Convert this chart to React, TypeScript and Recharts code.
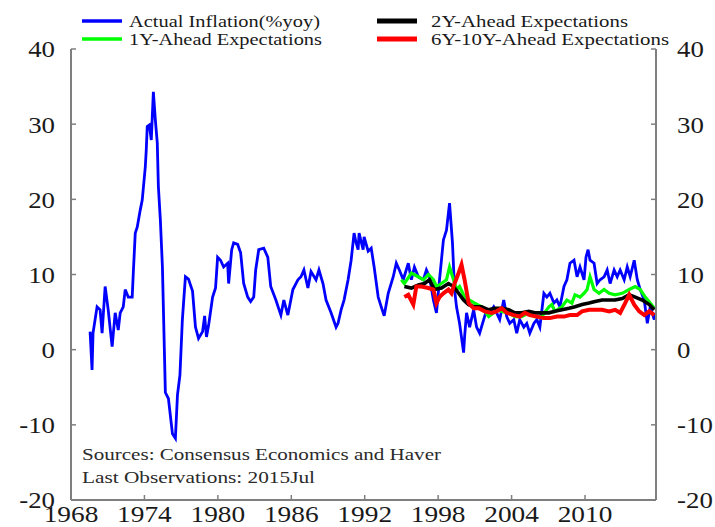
import { LineChart, Line, XAxis, YAxis } from 'recharts'

// axis ticks
const yearTicks = [1968, 1974, 1980, 1986, 1992, 1998, 2004, 2010]
const valueTicks = [-20, -10, 0, 10, 20, 30, 40]

// actual inflation, % yoy
const actualYears = [
  1969.56, 1969.72, 1969.8, 1970.13, 1970.38, 1970.54, 1970.79, 1971.04, 1971.36, 1971.61, 1971.86, 1972.02,
  1972.27, 1972.43, 1972.68, 1973.0, 1973.09, 1973.25, 1973.41, 1973.66, 1973.82, 1974.07, 1974.15, 1974.23,
  1974.4, 1974.56, 1974.73, 1974.89, 1975.05, 1975.14, 1975.3, 1975.47, 1975.71, 1975.96, 1976.29, 1976.53,
  1976.7, 1976.9, 1977.1, 1977.35, 1977.6, 1977.93, 1978.17, 1978.42, 1978.75, 1978.92, 1979.07, 1979.24,
  1979.57, 1979.81, 1979.98, 1980.22, 1980.47, 1980.8, 1980.88, 1981.13, 1981.29, 1981.62, 1981.86, 1982.11,
  1982.44, 1982.68, 1982.93, 1983.09, 1983.34, 1983.75, 1984.08, 1984.32, 1984.74, 1985.15, 1985.39, 1985.72,
  1986.13, 1986.54, 1986.79, 1987.03, 1987.36, 1987.61, 1988.02, 1988.26, 1988.59, 1988.84, 1989.25, 1989.66,
  1989.82, 1990.07, 1990.31, 1990.64, 1990.89, 1991.13, 1991.3, 1991.46, 1991.54, 1991.87, 1991.95, 1992.28,
  1992.53, 1992.77, 1993.1, 1993.35, 1993.59, 1993.92, 1994.33, 1994.58, 1994.83, 1995.15, 1995.56, 1995.81,
  1996.06, 1996.38, 1996.79, 1997.04, 1997.29, 1997.61, 1997.86, 1998.11, 1998.43, 1998.68, 1998.93, 1999.17,
  1999.34, 1999.5, 1999.75, 2000.08, 2000.16, 2000.32, 2000.57, 2000.9, 2001.14, 2001.39, 2001.72, 2001.96,
  2002.21, 2002.54, 2002.78, 2003.03, 2003.36, 2003.6, 2003.85, 2004.18, 2004.42, 2004.67, 2005.0, 2005.24,
  2005.49, 2005.82, 2006.06, 2006.31, 2006.64, 2006.88, 2007.13, 2007.46, 2007.7, 2007.95, 2008.28, 2008.52,
  2008.77, 2009.1, 2009.35, 2009.59, 2009.92, 2010.08, 2010.25, 2010.41, 2010.74, 2010.99, 2011.23, 2011.56,
  2011.81, 2012.05, 2012.38, 2012.63, 2012.87, 2013.2, 2013.45, 2013.69, 2014.02, 2014.27, 2014.51, 2014.84,
  2015.09, 2015.33, 2015.66, 2015.74,
]
const actualValues = [
  2.4, -2.7, 2.2, 5.7, 5.3, 2.2, 8.4, 5.3, 0.4, 4.9, 2.6, 4.9,
  5.7, 8.0, 7.0, 7.0, 10.2, 15.5, 16.3, 18.6, 19.9, 24.3, 26.6, 29.7,
  29.9, 27.9, 34.3, 30.6, 27.5, 21.7, 17.3, 11.0, -5.7, -6.5, -11.2, -11.8,
  -6.0, -3.4, 4.0, 9.7, 9.4, 7.8, 3.0, 1.5, 2.4, 4.5, 1.7, 3.2,
  7.0, 8.2, 12.3, 11.9, 11.0, 11.5, 8.8, 13.3, 14.2, 14.0, 12.9, 8.8,
  7.0, 6.4, 7.0, 10.6, 13.3, 13.5, 12.3, 8.4, 6.6, 4.6, 6.6, 4.6,
  8.0, 9.3, 9.7, 10.6, 8.2, 10.4, 9.3, 10.6, 8.8, 6.6, 4.9, 3.0,
  3.5, 5.3, 6.6, 9.3, 11.9, 15.5, 14.2, 13.3, 15.5, 13.3, 15.0, 13.1,
  13.5, 11.0, 7.0, 5.7, 4.5, 7.5, 9.7, 11.5, 10.6, 9.3, 11.5, 9.3,
  11.0, 9.7, 9.3, 10.6, 9.7, 6.6, 4.9, 9.3, 14.6, 15.9, 19.5, 14.2,
  8.0, 5.7, 3.5, -0.4, 1.7, 4.9, 3.0, 5.3, 3.0, 2.2, 4.0, 5.3,
  4.9, 5.7, 4.9, 4.0, 6.6, 4.4, 3.5, 4.0, 2.2, 4.0, 3.0, 3.5,
  2.2, 3.5, 4.0, 3.0, 7.5, 7.0, 7.5, 6.2, 6.6, 5.7, 8.4, 9.3,
  11.5, 11.9, 9.7, 11.0, 9.3, 12.3, 13.3, 11.9, 11.5, 8.8, 9.3, 9.7,
  10.6, 8.8, 10.6, 9.7, 10.6, 9.3, 11.0, 9.7, 11.9, 9.3, 8.0, 6.6,
  3.5, 5.7, 4.0, 4.9,
]

// 1Y-ahead expectations
const oneYearYears = [
  1994.99, 1995.24, 1995.81, 1996.38, 1996.79, 1997.2, 1997.61, 1997.86, 1998.27, 1998.68, 1998.93, 1999.26,
  1999.5, 1999.75, 2000.16, 2000.57, 2000.98, 2001.55, 2002.13, 2002.54, 2002.78, 2003.19, 2003.77, 2004.26,
  2004.83, 2005.41, 2005.9, 2006.47, 2007.05, 2007.29, 2007.54, 2008.11, 2008.52, 2008.93, 2009.18, 2009.59,
  2009.92, 2010.17, 2010.41, 2010.74, 2011.15, 2011.56, 2011.97, 2012.46, 2013.04, 2013.61, 2014.1, 2014.51,
  2014.92, 2015.33, 2015.66,
]
const oneYearValues = [
  9.3, 8.8, 10.2, 9.7, 9.3, 10.0, 9.3, 8.4, 8.8, 9.3, 11.0, 9.3,
  8.0, 8.4, 7.0, 6.6, 6.2, 5.7, 4.4, 4.9, 5.3, 5.1, 4.9, 4.4,
  4.4, 4.9, 4.4, 4.4, 5.7, 6.0, 5.1, 5.7, 6.6, 6.2, 7.3, 7.0,
  7.5, 8.0, 9.7, 8.0, 7.5, 8.0, 7.5, 7.3, 7.5, 8.0, 8.4, 8.0,
  7.0, 6.2, 5.5,
]

// 2Y-ahead expectations
const twoYearYears = [
  1995.24, 1995.81, 1996.38, 1996.88, 1997.29, 1997.7, 1998.27, 1998.84, 1999.26, 1999.67, 2000.08, 2000.49,
  2000.98, 2001.55, 2002.13, 2002.62, 2003.19, 2003.77, 2004.26, 2004.83, 2005.41, 2005.9, 2006.47, 2007.05,
  2007.54, 2008.11, 2008.69, 2009.18, 2009.76, 2010.33, 2010.82, 2011.4, 2011.97, 2012.46, 2013.04, 2013.61,
  2014.1, 2014.68, 2015.25, 2015.66,
]
const twoYearValues = [
  8.4, 8.2, 8.6, 8.8, 9.3, 8.0, 8.2, 8.8, 8.4, 7.5, 6.6, 6.0,
  5.7, 5.7, 5.3, 5.5, 5.5, 5.3, 4.9, 4.9, 5.1, 4.9, 4.9, 4.9,
  5.1, 5.3, 5.5, 5.7, 6.0, 6.2, 6.4, 6.6, 6.6, 6.6, 6.8, 7.3,
  7.0, 6.6, 6.0, 5.3,
]

// 6Y-10Y-ahead expectations
const longTermYears = [
  1995.24, 1995.56, 1995.97, 1996.22, 1996.63, 1997.2, 1997.61, 1997.86, 1998.11, 1998.43, 1998.84, 1999.09,
  1999.34, 1999.67, 1999.91, 2000.16, 2000.49, 2000.9, 2001.31, 2001.8, 2002.37, 2002.78, 2003.19, 2003.6,
  2004.18, 2004.67, 2005.08, 2005.49, 2006.06, 2006.64, 2007.13, 2007.7, 2008.28, 2008.77, 2009.35, 2009.76,
  2010.33, 2010.82, 2011.4, 2011.97, 2012.46, 2012.87, 2013.28, 2013.61, 2014.02, 2014.43, 2014.84, 2015.25,
  2015.66,
]
const longTermValues = [
  7.0, 7.3, 6.0, 8.4, 8.4, 8.2, 8.0, 6.2, 7.0, 7.5, 8.0, 7.5,
  8.8, 10.2, 11.3, 9.3, 6.2, 5.5, 5.5, 5.1, 4.9, 5.1, 5.5, 4.9,
  4.6, 4.4, 4.9, 4.6, 4.4, 4.2, 4.2, 4.4, 4.4, 4.6, 4.6, 5.1,
  5.3, 5.3, 5.3, 5.1, 5.3, 4.9, 6.2, 7.3, 6.0, 5.1, 4.6, 5.1,
  4.6,
]

const legendItems = [
  { label: 'Actual Inflation(%yoy)', color: '#0000FF' },
  { label: '2Y-Ahead Expectations', color: '#000000' },
  { label: '1Y-Ahead Expectations', color: '#00FF00' },
  { label: '6Y-10Y-Ahead Expectations', color: '#FF0000' },
]

const sourceNotes = ['Sources: Consensus Economics and Haver', 'Last Observations: 2015Jul']

const toPoints = (years: number[], values: number[]) => years.map((year, i) => ({ year, value: values[i] }))

const actual = toPoints(actualYears, actualValues)
const oneYear = toPoints(oneYearYears, oneYearValues)
const twoYear = toPoints(twoYearYears, twoYearValues)
const longTerm = toPoints(longTermYears, longTermValues)

const FONT = '"Liberation Serif", "Times New Roman", serif'
const AXIS_GRAY = '#7f7f7f'

// the source image is a bit wider than tall, so the text is stretched sideways
function stretch(x: number, y: number, k: number) {
  return `translate(${x} ${y}) scale(${k} 1) translate(${-x} ${-y})`
}

function ValueTick(props: any) {
  const { x, y, payload, textAnchor } = props
  return (
    <text x={x} y={y} dy="0.35em" textAnchor={textAnchor} style={{ fontFamily: FONT }} fontSize={24} fill="#1a1a1a" transform={stretch(x, y, 1.12)}>
      {payload.value}
    </text>
  )
}

function YearTick(props: any) {
  const { x, y, payload } = props
  return (
    <text x={x} y={y} dy="0.71em" textAnchor="middle" style={{ fontFamily: FONT }} fontSize={24} fill="#1a1a1a" transform={stretch(x, y, 1.14)}>
      {payload.value}
    </text>
  )
}

function Overlay() {
  const rows = [
    { y: 21, items: [legendItems[0], legendItems[1]] },
    { y: 39, items: [legendItems[2], legendItems[3]] },
  ]
  const widths: Record<string, number> = {
    'Actual Inflation(%yoy)': 191,
    '2Y-Ahead Expectations': 197,
    '1Y-Ahead Expectations': 193,
    '6Y-10Y-Ahead Expectations': 238,
  }
  return (
    <svg width={715} height={527} style={{ position: 'absolute', left: 0, top: 0, pointerEvents: 'none' }}>
      {rows.map((row) =>
        row.items.map((item, col) => {
          const x0 = col === 0 ? 82 : 377
          const tx = col === 0 ? 129 : 431
          return (
            <g key={item.label}>
              <line x1={x0} x2={x0 + 40} y1={row.y} y2={row.y} stroke={item.color} strokeWidth={col === 0 ? 3.5 : 5} />
              <text x={tx} y={row.y + 6} style={{ fontFamily: FONT }} fontSize={17} fill="#1a1a1a" textLength={widths[item.label]} lengthAdjust="spacingAndGlyphs">
                {item.label}
              </text>
            </g>
          )
        })
      )}
      {sourceNotes.map((note, i) => (
        <text key={note} x={82} y={460 + i * 23} style={{ fontFamily: FONT }} fontSize={16} fill="#2a2a2a" textLength={i === 0 ? 359 : 233} lengthAdjust="spacingAndGlyphs">
          {note}
        </text>
      ))}
    </svg>
  )
}

export default function App() {
  return (
    <div style={{ position: 'absolute', left: 0, top: 0, width: 715, height: 527, background: '#fff' }}>
      <LineChart width={715} height={527} margin={{ top: 49, right: 0, bottom: 0, left: 0 }}>
        <XAxis
          xAxisId={0}
          dataKey="year"
          type="number"
          domain={[1968, 2015.8]}
          ticks={yearTicks}
          allowDataOverflow
          height={27}
          tickSize={-5}
          tickMargin={10}
          axisLine={{ stroke: AXIS_GRAY, strokeWidth: 2 }}
          tickLine={{ stroke: AXIS_GRAY, strokeWidth: 1.5 }}
          tick={<YearTick />}
          interval={0}
        />
        <XAxis
          xAxisId="top"
          orientation="top"
          type="number"
          domain={[1968, 2015.8]}
          height={0}
          tick={false}
          tickLine={false}
          axisLine={{ stroke: AXIS_GRAY, strokeWidth: 2 }}
        />
        <YAxis
          yAxisId="left"
          type="number"
          domain={[-20, 40]}
          ticks={valueTicks}
          allowDataOverflow
          width={71}
          tickSize={-5}
          tickMargin={21}
          axisLine={{ stroke: AXIS_GRAY, strokeWidth: 2 }}
          tickLine={{ stroke: AXIS_GRAY, strokeWidth: 1.5 }}
          tick={<ValueTick />}
          interval={0}
        />
        <YAxis
          yAxisId="right"
          orientation="right"
          type="number"
          domain={[-20, 40]}
          ticks={valueTicks}
          allowDataOverflow
          width={59}
          tickSize={-5}
          tickMargin={26}
          axisLine={{ stroke: AXIS_GRAY, strokeWidth: 2 }}
          tickLine={{ stroke: AXIS_GRAY, strokeWidth: 1.5 }}
          tick={<ValueTick />}
          interval={0}
        />
        <Line yAxisId="left" data={actual} dataKey="value" type="linear" stroke="#0000FF" strokeWidth={2.8} dot={false} isAnimationActive={false} />
        <Line yAxisId="left" data={oneYear} dataKey="value" type="linear" stroke="#00FF00" strokeWidth={3.2} dot={false} isAnimationActive={false} />
        <Line yAxisId="left" data={twoYear} dataKey="value" type="linear" stroke="#000000" strokeWidth={3.6} dot={false} isAnimationActive={false} />
        <Line yAxisId="left" data={longTerm} dataKey="value" type="linear" stroke="#FF0000" strokeWidth={4} dot={false} isAnimationActive={false} />
      </LineChart>
      <Overlay />
    </div>
  )
}
